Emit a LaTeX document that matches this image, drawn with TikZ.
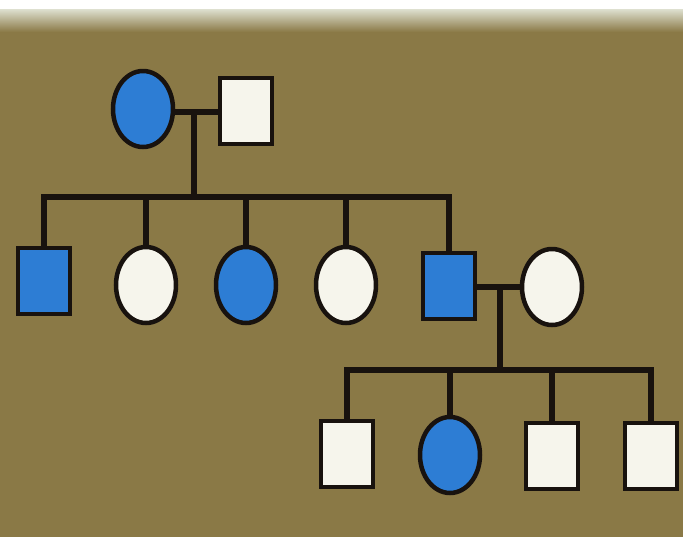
\documentclass[tikz,border=0pt]{standalone}
\usetikzlibrary{shapes.geometric}
\definecolor{bgbrown}{RGB}{138,121,70}
\definecolor{bglight}{RGB}{222,224,208}
\definecolor{affblue}{RGB}{45,125,212}
\definecolor{plainwhite}{RGB}{246,245,236}
\definecolor{inkline}{RGB}{24,18,14}
\tikzset{
  person/.style={draw=inkline, line width=4.5pt, inner sep=0pt},
  male/.style={person, rectangle, minimum width=52pt, minimum height=66pt},
  female/.style={person, ellipse, minimum width=60pt, minimum height=76pt},
  affected/.style={fill=affblue},
  unaffected/.style={fill=plainwhite},
  link/.style={draw=inkline, line width=6pt}
}
\begin{document}
\begin{tikzpicture}[x=1pt,y=-1pt]
\useasboundingbox (0,0) rectangle (683,547);
% background
\fill[white] (0,0) rectangle (683,547);
\fill[bgbrown] (0,30) rectangle (683,537);
\shade[top color=bglight, bottom color=bgbrown] (0,9) rectangle (683,32);
% generation I
\node[female, affected] (g1f) at (143,109) {};
\node[male, unaffected] (g1m) at (246,111) {};
% generation II
\node[male, affected] (c1) at (44,281) {};
\node[female, unaffected] (c2) at (146,285) {};
\node[female, affected] (c3) at (246,285) {};
\node[female, unaffected] (c4) at (346,285) {};
\node[male, affected] (c5) at (449,286) {};
\node[female, unaffected] (w5) at (552,287) {};
% generation III
\node[male, unaffected] (d1) at (347,454) {};
\node[female, affected] (d2) at (450,455) {};
\node[male, unaffected] (d3) at (552,456) {};
\node[male, unaffected] (d4) at (651,456) {};
% marriage 1
\coordinate (m1) at (194,112);
\coordinate (s1) at (194,197);
\draw[link] (g1f.east |- m1) -- (g1m.west |- m1);
\draw[link] (m1) -- (s1);
\draw[link, line cap=rect] (c1.north |- s1) -- (c5.north |- s1);
\foreach \c in {c1,c2,c3,c4,c5} \draw[link] (\c.north |- s1) -- (\c.north);
% marriage 2
\coordinate (m2) at (500,287);
\coordinate (s2) at (500,370);
\draw[link] (c5.east |- m2) -- (w5.west |- m2);
\draw[link] (m2) -- (s2);
\draw[link, line cap=rect] (d1.north |- s2) -- (d4.north |- s2);
\foreach \d in {d1,d2,d3,d4} \draw[link] (\d.north |- s2) -- (\d.north);
\end{tikzpicture}
\end{document}
